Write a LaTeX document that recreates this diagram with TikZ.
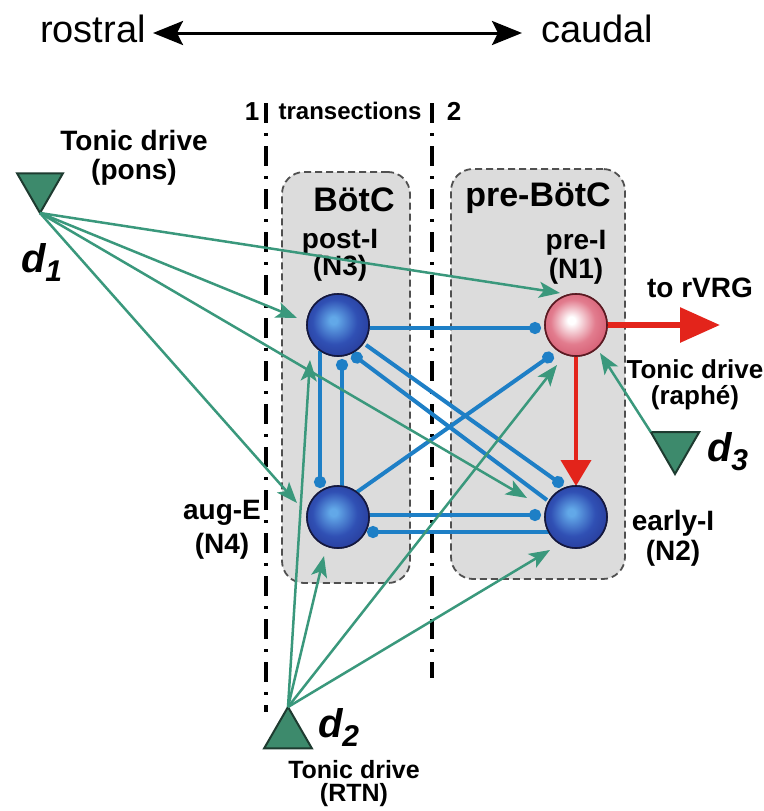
\documentclass[tikz,border=0pt]{standalone}
\usepackage{fontspec}
\setmainfont{Liberation Sans}
\usetikzlibrary{arrows.meta,calc,shapes.geometric}
\definecolor{boxgray}{HTML}{DCDCDC}
\definecolor{boxedge}{HTML}{505050}
\definecolor{exgreen}{HTML}{3A987C}
\definecolor{trifill}{HTML}{3D8A6C}
\definecolor{triedge}{HTML}{1E3B30}
\definecolor{inblue}{HTML}{1E7FC6}
\definecolor{exred}{HTML}{E3241B}
\definecolor{nbA}{HTML}{62A8E8}
\definecolor{nbB}{HTML}{3050B4}
\definecolor{nbC}{HTML}{23318C}
\definecolor{nbD}{HTML}{161C5C}
\definecolor{nedge}{HTML}{14183E}
\definecolor{npA}{HTML}{FFFFFF}
\definecolor{npB}{HTML}{E27C8E}
\definecolor{npC}{HTML}{CC4A62}
\definecolor{npD}{HTML}{A62C42}
\definecolor{pedge}{HTML}{5A1A22}
\pgfdeclareradialshading{nblue}{\pgfpoint{-4bp}{4bp}}{color(0bp)=(nbA); color(3bp)=(nbA); color(18bp)=(nbB); color(36bp)=(nbC); color(50bp)=(nbD)}
\pgfdeclareradialshading{npink}{\pgfpoint{-4bp}{4bp}}{color(0bp)=(npA); color(3bp)=(npA); color(18bp)=(npB); color(36bp)=(npC); color(50bp)=(npD)}
\begin{document}
\begin{tikzpicture}[x=1pt,y=-1pt,
  region/.style={draw=boxedge, line width=1.8pt, dash pattern=on 7pt off 4pt, fill=boxgray, rounded corners=22pt, inner sep=0pt, outer sep=0pt},
  neuron/.style={circle, minimum size=62pt, inner sep=0pt, outer sep=0pt, draw=nedge, line width=1.6pt, shade, shading=nblue},
  preneuron/.style={neuron, draw=pedge, shading=npink},
  drive/.style={regular polygon, regular polygon sides=3, inner sep=0pt, outer sep=0pt, fill=trifill, draw=triedge, line width=2pt},
  exc/.style={draw=exgreen, line width=2.5pt, -{Stealth[length=21pt,width=16pt,inset=5pt]}},
  inh/.style={draw=inblue, line width=4pt, -{Circle[length=12pt]}},
  transect/.style={draw=black, line width=3.5pt, dash pattern=on 20pt off 10pt on 3pt off 10pt},
  lab/.style={font=\fontsize{28}{29}\selectfont\bfseries, inner sep=0pt, align=center},
  biglab/.style={font=\fontsize{34}{36}\selectfont\bfseries, inner sep=0pt},
  dirlab/.style={font=\fontsize{38}{40}\selectfont, inner sep=0pt, anchor=base},
  dlab/.style={font=\fontsize{40}{40}\selectfont\bfseries\itshape, inner sep=0pt}
]
\useasboundingbox (0,0) rectangle (763,811);
\fill[white] (0,0) rectangle (763,811);

% orientation
\node[dirlab] (ros) at (93,42) {rostral};
\node[dirlab] (cau) at (597,42) {caudal};
\coordinate (rtip) at (153,33);
\coordinate (ctip) at (522,33);
\draw[line width=3pt, {Stealth[length=30pt,width=24pt,inset=6pt]}-{Stealth[length=30pt,width=24pt,inset=6pt]}] (rtip) -- (ctip);

% regions
\node[region, minimum width=128pt, minimum height=411pt] (B1) at (346,377.5) {};
\node[region, minimum width=174pt, minimum height=410pt] (B2) at (538,374) {};

% transections
\coordinate (t1a) at (266,103);
\coordinate (t1b) at (266,712);
\coordinate (t2a) at (432,103);
\coordinate (t2b) at (432,678);
\draw[transect] (t1a) -- (t1b);
\draw[transect] (t2a) -- (t2b);
\node[font=\fontsize{26}{28}\selectfont\bfseries, inner sep=0pt, anchor=base] (one) at (252,120) {1};
\node[font=\fontsize{24}{26}\selectfont\bfseries, inner sep=0pt, anchor=base] (trs) at (350,119) {transections};
\node[font=\fontsize{26}{28}\selectfont\bfseries, inner sep=0pt, anchor=base] (two) at (454,120) {2};

% region titles and neuron labels
\node[biglab] (tB1) at (354,200) {BötC};
\node[biglab] (tB2) at (538,198) {pre-BötC};
\node[lab, font=\fontsize{28}{25}\selectfont\bfseries] (l3) at (340,255) {post-I\\(N3)};
\node[lab] (l1) at (576,257) {pre-I\\(N1)};
\node[lab, font=\fontsize{28}{34}\selectfont\bfseries] (l4) at (222,530) {aug-E\\(N4)};
\node[lab, font=\fontsize{28}{30}\selectfont\bfseries] (l2) at (673,538) {early-I\\(N2)};
\node[lab] (lr) at (700,288) {to rVRG};

% neurons
\node[neuron] (N3) at (338,325) {};
\node[preneuron] (N1) at (576,325) {};
\node[neuron] (N4) at (338,517) {};
\node[neuron] (N2) at (576,517) {};

% drives
\node[drive, minimum size=53pt, shape border rotate=180] (D1) at (40,186.5) {};
\node[drive, minimum size=55pt] (D2) at (288,734.5) {};
\node[drive, minimum size=56pt, shape border rotate=180] (D3) at (675,446) {};
\node[lab] (ld1) at (134,157.5) {Tonic drive\\(pons)};
\node[lab, font=\fontsize{26}{26}\selectfont\bfseries] (ld3) at (695,385) {Tonic drive\\(raphé)};
\node[lab, font=\fontsize{25}{23}\selectfont\bfseries] (ld2) at (354,783.5) {Tonic drive\\(RTN)};
\node[dlab] (dd1) at (42,263) {d\kern-1pt\raisebox{-9pt}{\fontsize{30}{30}\selectfont 1}};
\node[dlab] (dd2) at (339,727) {d\kern-1pt\raisebox{-9pt}{\fontsize{30}{30}\selectfont 2}};
\node[dlab] (dd3) at (728,452) {d\kern-1pt\raisebox{-9pt}{\fontsize{30}{30}\selectfont 3}};

% inhibitory connections
\draw[inh] ($(N3)+(32,3)$) -- ($(N1)+(-35,3)$);
\draw[inh] ($(N3)+(-18,26)$) -- ($(N4)+(-18,-29)$);
\draw[inh] ($(N4)+(4,-31)$) -- ($(N3)+(4,34)$);
\draw[inh] ($(N4)+(19,-25)$) -- ($(N1)+(-23,29)$);
\draw[inh] ($(N3)+(28,20)$) -- ($(N2)+(-13,-31.5)$);
\draw[inh] ($(N2)+(-29,-17)$) -- ($(N3)+(14,29)$);
\draw[inh] ($(N4)+(32,-2)$) -- ($(N2)+(-35,-2)$);
\draw[inh] ($(N2)+(-27,15)$) -- ($(N4)+(29,15)$);

% excitatory drive connections
\draw[exc] (D1.270) -- ($(N1)+(-16,-32)$);
\draw[exc] (D1.270) -- ($(N3)+(-41,-7)$);
\draw[exc] (D1.270) -- ($(N2)+(-49,-19)$);
\draw[exc] (D1.270) -- ($(N4)+(-41,-14)$);
\draw[exc] (D2.90) -- ($(N3)+(-28,35)$);
\draw[exc] (D2.90) -- ($(N4)+(-14,39)$);
\draw[exc] (D2.90) -- ($(N1)+(-19,40)$);
\draw[exc] (D2.90) -- ($(N2)+(-26,33)$);
\draw[exc] (D3.150) -- ($(N1)+(24,28)$);

% excitatory red
\coordinate (rvrg) at (720,325);
\draw[draw=exred, line width=4pt, -{Triangle[length=26pt,width=30pt]}] (N1.south) -- (N2.north);
\draw[draw=exred, line width=6pt, -{Triangle[length=40pt,width=34pt]}] (N1.east) -- (rvrg);

% redraw neurons on top
\node[neuron] at (N3) {};
\node[preneuron] at (N1) {};
\node[neuron] at (N4) {};
\node[neuron] at (N2) {};
\end{tikzpicture}
\end{document}
